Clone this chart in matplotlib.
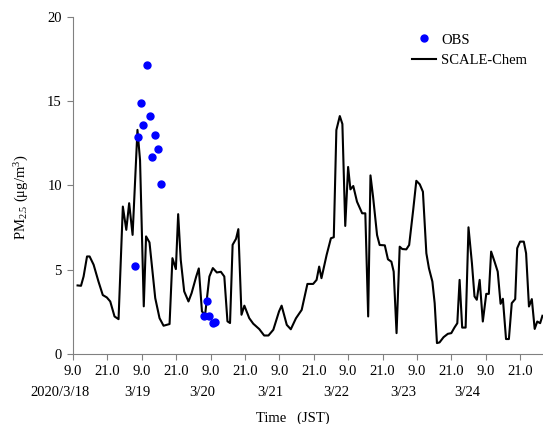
import matplotlib.pyplot as plt
from matplotlib.transforms import blended_transform_factory

# hours since 2020/3/18 09:00 JST
model_hours = [1.6, 2.8, 3.7, 4.9, 5.8, 7.2, 8.9, 10.4, 11.8, 13.0, 14.5, 15.9, 17.4, 18.6,
               19.6, 20.8, 22.5, 23.4, 24.7, 25.5, 26.7, 28.7, 30.2, 31.6, 33.7, 34.7, 35.9,
               36.7, 37.6, 38.8, 40.3, 41.4, 43.0, 43.9, 45.0, 46.1, 47.6, 48.8, 50.2, 51.6,
               52.8, 53.9, 54.8, 55.7, 56.9, 57.7, 58.8, 59.8, 61.5, 62.9, 65.0, 66.7, 68.2,
               69.9, 71.9, 72.8, 74.6, 76.0, 77.8, 79.8, 81.8, 83.8, 85.0, 85.9, 86.7, 88.5,
               90.0, 91.0, 91.9, 93.1, 94.0, 95.0, 96.0, 96.8, 97.8, 99.1, 100.9, 102.0, 103.0,
               103.8, 104.7, 106.1, 107.0, 108.8, 109.9, 111.1, 111.9, 112.9, 114.0, 114.9,
               116.3, 117.3, 118.7, 119.8, 121.0, 122.1, 123.3, 124.2, 125.4, 126.2, 127.0,
               127.9, 129.3, 130.8, 132.0, 133.1, 134.1, 134.9, 135.8, 137.0, 138.0, 139.2,
               140.1, 140.9, 141.9, 143.0, 144.2, 145.1, 145.9, 147.1, 148.2, 149.2, 150.0,
               151.1, 152.1, 153.1, 154.3, 155.0, 156.0, 157.3, 158.1, 159.1, 160.1, 161.1,
               162.0, 163.0, 163.8]
model_pm25 = [4.07, 4.05, 4.6, 5.79, 5.79, 5.3, 4.3, 3.5, 3.36, 3.12, 2.23, 2.07, 8.75, 7.37,
              8.95, 7.07, 13.3, 11.5, 2.83, 6.98, 6.62, 3.32, 2.13, 1.68, 1.78, 5.69, 5.04,
              8.3, 5.59, 3.72, 3.12, 3.62, 4.6, 5.08, 2.53, 2.33, 4.6, 5.1, 4.84, 4.88,
              4.6, 1.94, 1.84, 6.48, 6.84, 7.41, 2.33, 2.87, 2.13, 1.8, 1.48, 1.1, 1.1,
              1.44, 2.53, 2.87, 1.73, 1.47, 2.12, 2.62, 4.16, 4.16, 4.4, 5.19, 4.5, 5.88,
              6.87, 6.93, 13.29, 14.12, 13.65, 7.6, 11.1, 9.77, 9.97, 9.04, 8.35, 8.35, 2.23,
              10.6, 9.34, 7.06, 6.47, 6.45, 5.62, 5.48, 4.89, 1.24, 6.37, 6.23,
              6.21, 6.47, 8.54, 10.28, 10.07, 9.63, 5.98, 5.09, 4.3, 3.02, 0.65,
              0.69, 1.0, 1.2, 1.24, 1.57, 1.83, 4.4, 1.57, 1.57, 7.52, 5.39,
              3.42, 3.22, 4.4, 1.93, 3.57, 3.57, 6.08, 5.48, 4.89, 2.98, 3.28,
              0.89, 0.89, 3.02, 3.26, 6.28, 6.67, 6.67, 5.98, 2.82, 3.26, 1.49,
              1.93, 1.83, 2.27]

obs_hours = [21.6, 22.7, 23.7, 24.6, 25.8, 26.7, 27.6, 28.7, 29.6, 30.8,
             45.7, 46.7, 47.6, 48.8, 49.7]
obs_pm25 = [5.2, 12.87, 14.92, 13.6, 17.17, 14.11, 11.7, 13.0, 12.17, 10.1,
            2.27, 3.16, 2.27, 1.84, 1.9]

tick_hours = list(range(0, 157, 12))
tick_labels = ['9.0' if i % 2 == 0 else '21.0' for i in range(len(tick_hours))]
date_labels = ['2020/3/18', '3/19', '3/20', '3/21', '3/22', '3/23', '3/24']
date_hours = [-4.4, 22.4, 45.1, 68.8, 91.7, 115.1, 137.7]

plt.rcParams['font.family'] = ['Liberation Serif', 'DejaVu Serif']
plt.rcParams['mathtext.fontset'] = 'custom'
plt.rcParams['mathtext.rm'] = 'Liberation Serif'
plt.rcParams['mathtext.it'] = 'Liberation Serif:italic'

fig = plt.figure(figsize=(5.43, 4.24), dpi=100)
ax = fig.add_axes([0.1344, 0.165, 0.8656, 0.795])

ax.plot(obs_hours, obs_pm25, 'o', color='#0000ff', markersize=5, label='OBS', zorder=3)
ax.plot(model_hours, model_pm25, color='black', linewidth=1.5, label='SCALE-Chem')

ax.set_xlim(0, 164)
ax.set_ylim(0, 20)
ax.set_yticks([0, 5, 10, 15, 20])
ax.set_xticks(tick_hours)
ax.set_xticklabels(tick_labels)
ax.tick_params(labelsize=10.5, direction='out', length=4, color='#808080', pad=4)

for side in ['top', 'right']:
    ax.spines[side].set_visible(False)
for side in ['left', 'bottom']:
    ax.spines[side].set_color('#808080')

trans = blended_transform_factory(ax.transData, fig.transFigure)
for h, lab in zip(date_hours, date_labels):
    fig.text(h, 1 - 393 / 424, lab, transform=trans, ha='center', va='center', fontsize=10.5)

fig.text(293 / 543, 1 - 418 / 424, 'Time   (JST)', ha='center', va='center', fontsize=10.5)
fig.text(22 / 543, 1 - 197 / 424, r'PM$_{2.5}$ ($\mathregular{\mu}$g/m$^{3}$)',
         rotation=90, ha='center', va='center', fontsize=10.5)

ax.legend(loc='upper left', bbox_to_anchor=(405 / 543, 1 - 26 / 424),
          bbox_transform=fig.transFigure, frameon=False, fontsize=10.5,
          handlelength=1.6, handletextpad=0.4, labelspacing=0.5, borderpad=0)

fig.savefig('out.png', dpi=100)
